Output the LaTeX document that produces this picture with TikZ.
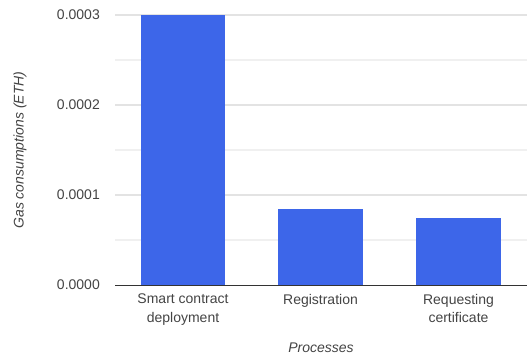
\documentclass[tikz,border=0pt]{standalone}
\usepackage{fontspec}
\setmainfont{Liberation Sans}
\definecolor{barblue}{HTML}{3D66E9}
\definecolor{gridc}{HTML}{E3E3E3}
\definecolor{minorc}{HTML}{F0F0F0}
\definecolor{txt}{HTML}{444444}
\definecolor{axisc}{HTML}{333333}
\tikzset{
  bar/.style={fill=barblue, draw=none},
  grid major/.style={draw=gridc, line width=1.2bp},
  grid minor/.style={draw=minorc, line width=1.2bp},
  ticklbl/.style={anchor=east, inner sep=0pt, text=txt, font=\fontsize{14bp}{17bp}\selectfont},
  catlbl/.style={anchor=north, inner sep=0pt, align=center, text=txt, font=\fontsize{14bp}{18.5bp}\selectfont},
  titlelbl/.style={inner sep=0pt, text=txt, font=\fontsize{14bp}{17bp}\selectfont\itshape},
}
\begin{document}
\begin{tikzpicture}[x=1bp, y=-1bp]
\useasboundingbox (0,0) rectangle (527,360);
\fill[white] (0,0) rectangle (527,360);
% minor gridlines
\foreach \yy in {60,150,240} \draw[grid minor] (115,\yy) -- (527,\yy);
% major gridlines
\foreach \yy in {15,105,195} \draw[grid major] (115,\yy) -- (527,\yy);
% bars
\fill[bar] (141,15) rectangle (225,285);
\fill[bar] (278,209) rectangle (363,285);
\fill[bar] (416,218) rectangle (501,285);
% axis
\coordinate (axl) at (115,285);
\coordinate (axr) at (527,285);
\draw[axisc, line width=1bp] (axl) -- (axr);
% tick labels
\node[ticklbl] (t3) at (100,15) {0.0003};
\node[ticklbl] (t2) at (100,105) {0.0002};
\node[ticklbl] (t1) at (100,195) {0.0001};
\node[ticklbl] (t0) at (100,285) {0.0000};
% category labels
\node[catlbl] (c1) at (183,294) {Smart contract\\deployment};
\node[catlbl] (c2) at (320.5,294) {Registration};
\node[catlbl] (c3) at (458.5,294) {Requesting\\certificate};
% axis titles
\node[titlelbl] (xt) at (321,348) {Processes};
\node[titlelbl, rotate=90] (yt) at (20,150) {Gas consumptions (ETH)};
\end{tikzpicture}
\end{document}
